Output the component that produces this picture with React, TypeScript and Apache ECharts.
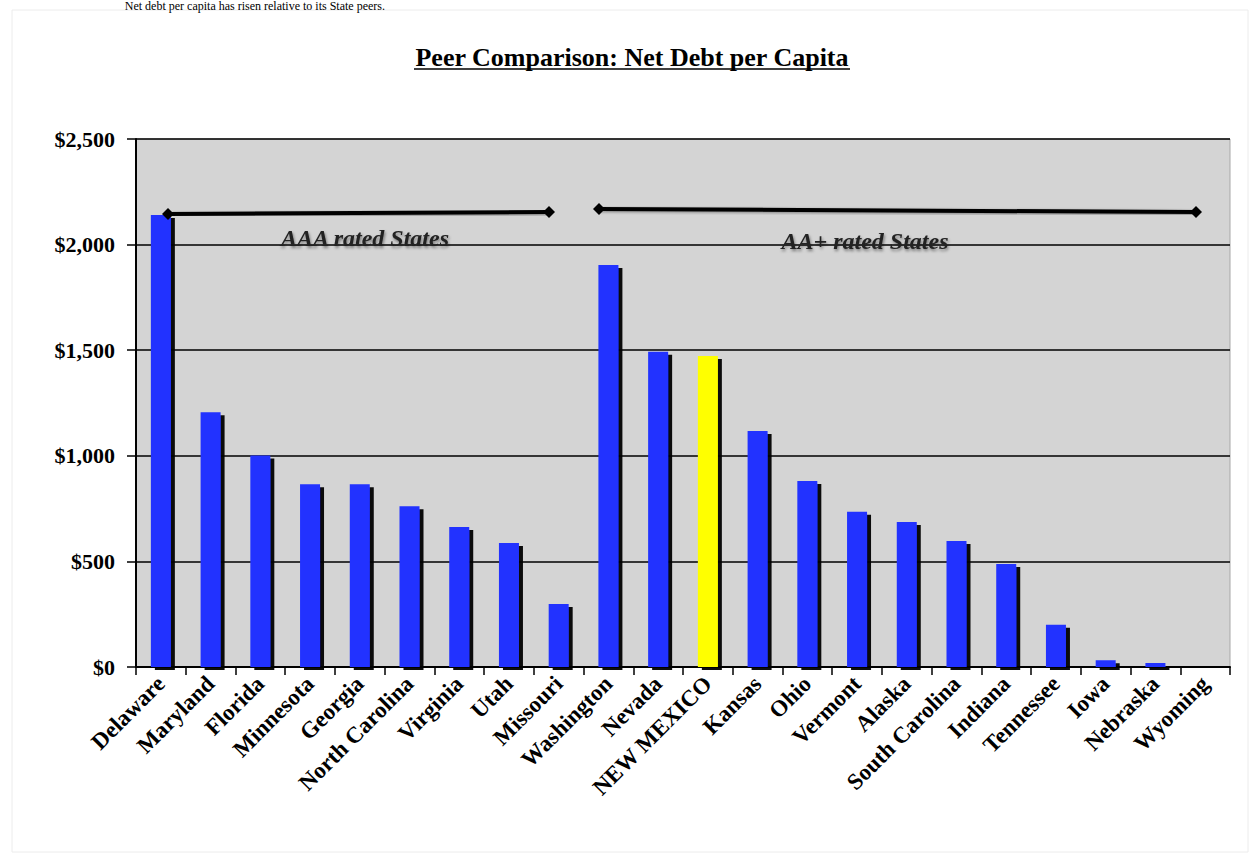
import React, { useEffect, useRef } from "react";
import * as echarts from "echarts";

const categories = [
  "Delaware", "Maryland", "Florida", "Minnesota", "Georgia", "North Carolina",
  "Virginia", "Utah", "Missouri", "Washington", "Nevada", "NEW MEXICO",
  "Kansas", "Ohio", "Vermont", "Alaska", "South Carolina", "Indiana",
  "Tennessee", "Iowa", "Nebraska", "Wyoming",
];
const netDebtPerCapita = [
  2140, 1206, 1001, 865, 865, 761, 663, 587, 298, 1903, 1493, 1472,
  1117, 881, 735, 687, 597, 488, 200, 32, 19, 0,
];
const highlightState = "NEW MEXICO";
const yMin = 0;
const yMax = 2500;
const yInterval = 500;
const titleText = "Peer Comparison: Net Debt per Capita";
const groupLabels = ["AAA rated States", "AA+ rated States"];
const bodyText = "Net debt per capita has risen relative to its State peers.";

const SERIF = "'Liberation Serif', 'Times New Roman', serif";

function diamond(cx: number, cy: number, r: number) {
  return {
    type: "polygon",
    shape: { points: [[cx - r, cy], [cx, cy - r], [cx + r, cy], [cx, cy + r]] },
    style: { fill: "#000" },
    z: 20,
  };
}

export default function App() {
  const ref = useRef<HTMLDivElement>(null);
  useEffect(() => {
    if (!ref.current) return;
    const chart = echarts.init(ref.current, undefined, { renderer: "svg" });
    const data = categories.map((c, i) => ({
      value: netDebtPerCapita[i],
      itemStyle: { color: c === highlightState ? "#ffff00" : "#2233ff" },
    }));
    const groupStyle = {
      font: "italic bold 24px " + SERIF,
      fill: "#222",
      align: "center",
      verticalAlign: "middle",
      textShadowColor: "rgba(0,0,0,0.45)",
      textShadowBlur: 3,
      textShadowOffsetX: 1,
      textShadowOffsetY: 2,
    };
    chart.setOption({
      animation: false,
      backgroundColor: "#ffffff",
      grid: {
        left: 136,
        right: 22,
        top: 139,
        bottom: 186,
        show: true,
        backgroundColor: "#d4d4d4",
        borderColor: "#a8a8a8",
        borderWidth: 1,
      },
      xAxis: {
        type: "category",
        data: categories,
        axisLine: { lineStyle: { color: "#000", width: 2 } },
        axisTick: { show: true, length: 8, interval: 0, lineStyle: { color: "#000", width: 1.5 } },
        axisLabel: {
          interval: 0,
          rotate: 45,
          margin: 13,
          color: "#000",
          fontFamily: SERIF,
          fontWeight: "bold",
          fontSize: 23,
        },
      },
      yAxis: {
        type: "value",
        min: yMin,
        max: yMax,
        interval: yInterval,
        axisLine: { show: true, lineStyle: { color: "#000", width: 2 } },
        axisTick: { show: true, length: 9, lineStyle: { color: "#000", width: 1.5 } },
        splitLine: { show: true, lineStyle: { color: "#000", width: 1.5 } },
        axisLabel: {
          margin: 21,
          color: "#000",
          fontFamily: SERIF,
          fontWeight: "bold",
          fontSize: 22,
          formatter: (v: number) => "$" + v.toLocaleString("en-US"),
        },
      },
      series: [
        {
          type: "bar",
          data,
          barWidth: 20,
          itemStyle: {
            shadowColor: "rgba(0,0,0,0.95)",
            shadowBlur: 1,
            shadowOffsetX: 4,
            shadowOffsetY: 3,
          },
          z: 5,
        },
      ],
      graphic: [
        {
          type: "rect",
          shape: { x: 12, y: 10, width: 1236, height: 842 },
          style: { fill: "none", stroke: "#ececec", lineWidth: 1 },
          z: 0,
          silent: true,
        },
        {
          type: "text",
          x: 385,
          y: 0,
          style: {
            text: bodyText,
            font: "12px " + SERIF,
            fill: "#000",
            align: "right",
            verticalAlign: "top",
          },
        },
        {
          type: "text",
          x: 632,
          y: 57,
          style: {
            text: titleText,
            font: "bold 26px " + SERIF,
            fill: "#000",
            align: "center",
            verticalAlign: "middle",
          },
        },
        {
          type: "line",
          shape: { x1: 414, y1: 69, x2: 850, y2: 69 },
          style: { stroke: "#000", lineWidth: 1.5 },
        },
        {
          type: "line",
          shape: { x1: 168, y1: 214, x2: 549, y2: 212 },
          style: { stroke: "#000", lineWidth: 4, shadowColor: "rgba(0,0,0,0.4)", shadowBlur: 3, shadowOffsetY: 1 },
          z: 20,
        },
        diamond(168, 214, 6),
        diamond(549, 212, 6),
        {
          type: "line",
          shape: { x1: 599, y1: 209, x2: 1196, y2: 212 },
          style: { stroke: "#000", lineWidth: 4, shadowColor: "rgba(0,0,0,0.4)", shadowBlur: 3, shadowOffsetY: 1 },
          z: 20,
        },
        diamond(599, 209, 6),
        diamond(1196, 212, 6),
        {
          type: "text",
          x: 365,
          y: 238,
          z: 20,
          style: { ...groupStyle, text: groupLabels[0] },
        },
        {
          type: "text",
          x: 865,
          y: 241,
          z: 20,
          style: { ...groupStyle, text: groupLabels[1] },
        },
      ],
    });
    return () => chart.dispose();
  }, []);
  return (
    <div
      ref={ref}
      style={{ position: "absolute", left: 0, top: 0, width: 1252, height: 853 }}
    />
  );
}
